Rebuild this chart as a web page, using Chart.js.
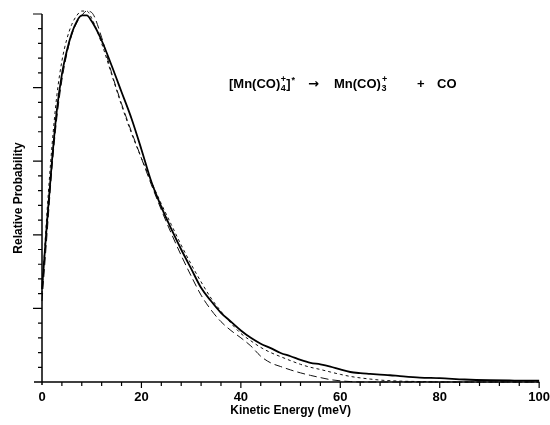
<!DOCTYPE html>
<html>
<head>
<meta charset="utf-8">
<script src="https://cdn.jsdelivr.net/npm/chart.js@4"></script>
<style>
  html, body { margin: 0; padding: 0; background: #fff; }
  #wrap { width: 550px; height: 425px; }
</style>
</head>
<body>
<div id="wrap"><canvas id="chart" width="550" height="425"></canvas></div>
<script>
// kinetic energy grid (meV)
const energy = [0, 1, 2, 3, 4, 5, 6, 7, 8, 9, 10, 12, 14, 16, 18, 20, 22, 24, 26, 28, 30, 32, 34, 36, 38, 40,
    42, 44, 46, 48, 50, 52, 54, 56, 58, 60, 62, 64, 66, 68, 70, 72, 76, 80, 85, 90, 95, 100];

// experimental distribution (solid)
const measured = [6.3, 10.8, 15, 18.5, 20.9, 22.5, 23.7, 24.5, 24.9, 24.9, 24.5, 23.2, 21.5, 19.7, 17.9, 15.8, 13.6, 11.9, 10.4, 9.0, 7.7, 6.4, 5.5, 4.7, 4.1, 3.5,
    3.0, 2.6, 2.3, 1.97, 1.75, 1.5, 1.3, 1.2, 1.05, 0.85, 0.68, 0.6, 0.55, 0.5, 0.46, 0.4, 0.3, 0.26, 0.17, 0.12, 0.1, 0.09];

// calculated distributions
const calcShort = [6.0, 11.5, 16, 19.5, 21.8, 23.3, 24.3, 24.9, 25.2, 25.2, 24.7, 23.0, 20.9, 18.8, 16.9, 15.2, 13.6, 12.1, 10.7, 9.3, 8.0, 6.8, 5.7, 4.8, 4.0, 3.3,
    2.8, 2.35, 2.0, 1.72, 1.45, 1.2, 1.0, 0.85, 0.68, 0.52, 0.38, 0.28, 0.2, 0.13, 0.09, 0.06, 0.03, 0, 0, 0, 0, 0];
const calcLong = [5.5, 10, 14.5, 18, 20.5, 22.3, 23.6, 24.4, 24.9, 25.2, 25.1, 23.4, 21.0, 18.9, 17.0, 15.2, 13.4, 11.7, 10.1, 8.6, 7.2, 5.9, 4.9, 4.1, 3.5, 3.0,
    2.45, 1.75, 1.3, 1.05, 0.82, 0.62, 0.45, 0.3, 0.16, 0.08, 0.03, 0, 0, 0, 0, 0, 0, 0, 0, 0, 0, 0];

const xTickLabels = [0, 20, 40, 60, 80, 100];

const FONT = "'Liberation Sans', Arial, Helvetica, sans-serif";

function pts(ys) {
    return energy.map((e, i) => ({ x: e, y: ys[i] }));
}

// axis lines + tick marks (minor and major) drawn from the scales
const axesPlugin = {
    id: 'axesPlugin',
    afterDatasetsDraw(chart) {
        const { ctx, scales: { x, y } } = chart;
        const x0 = x.getPixelForValue(0), y0 = y.getPixelForValue(0);
        ctx.save();
        ctx.strokeStyle = '#000';
        ctx.lineWidth = 1.5;
        ctx.beginPath();
        ctx.moveTo(x0 - 8, y0);
        ctx.lineTo(x.getPixelForValue(100), y0);
        ctx.moveTo(x0, y.getPixelForValue(25));
        ctx.lineTo(x0, y0 + 3);
        ctx.stroke();
        ctx.lineWidth = 1.2;
        ctx.beginPath();
        for (let v = 4; v <= 100; v += 4) {
            const px = x.getPixelForValue(v);
            const len = v % 20 === 0 ? 6 : 4;
            ctx.moveTo(px, y0);
            ctx.lineTo(px, y0 + len);
        }
        ctx.moveTo(x.getPixelForValue(100), y0);
        ctx.lineTo(x.getPixelForValue(100), y0 + 6);
        for (let v = 1; v <= 25; v++) {
            const py = y.getPixelForValue(v);
            const len = v % 5 === 0 ? 9 : 4;
            ctx.moveTo(x0, py);
            ctx.lineTo(x0 - len, py);
        }
        ctx.stroke();
        ctx.restore();
    }
};

// reaction label
const labelPlugin = {
    id: 'labelPlugin',
    afterDraw(chart) {
        const ctx = chart.ctx;
        const base = 88;
        const big = 'bold 13px ' + FONT;
        const small = 'bold 9px ' + FONT;
        ctx.save();
        ctx.fillStyle = '#000';
        ctx.textBaseline = 'alphabetic';
        const put = (t, f, x, dy) => {
            ctx.font = f;
            ctx.fillText(t, x, base + dy);
            return x + ctx.measureText(t).width;
        };
        let cx = put('[Mn(CO)', big, 229, 0);
        const a = put('4', small, cx + 0.5, 3);
        put('+', small, cx + 0.5, -6);
        cx = put(']', big, a + 0.5, 0);
        put('*', small, cx + 1, -5);
        ctx.font = 'bold 13px "DejaVu Sans", sans-serif';
        ctx.fillText('\u2192', 308, base);
        cx = put('Mn(CO)', big, 334, 0);
        put('3', small, cx + 0.5, 3);
        put('+', small, cx + 1, -6);
        put('+', big, 417, 0);
        put('CO', big, 437, 0);
        ctx.restore();
    }
};

new Chart(document.getElementById('chart'), {
    type: 'line',
    data: {
        datasets: [
            { data: pts(measured), borderColor: '#000', borderWidth: 1.8, borderDash: [] },
            { data: pts(calcShort), borderColor: '#111', borderWidth: 1, borderDash: [3, 3] },
            { data: pts(calcLong), borderColor: '#111', borderWidth: 1, borderDash: [8, 4] }
        ]
    },
    options: {
        responsive: false,
        animation: false,
        events: [],
        clip: false,
        layout: { padding: { left: 0, right: 0, top: 14, bottom: 0 } },
        elements: {
            point: { radius: 0 },
            line: { cubicInterpolationMode: 'monotone', fill: false }
        },
        plugins: { legend: { display: false }, tooltip: { enabled: false } },
        scales: {
            x: {
                type: 'linear', min: 0, max: 100,
                grid: { display: false },
                border: { display: false },
                ticks: {
                    stepSize: 20,
                    padding: 0,
                    color: '#000',
                    font: { family: FONT, size: 13, weight: 'bold' },
                    callback: v => xTickLabels.includes(v) ? String(v) : ''
                },
                title: {
                    display: true, text: 'Kinetic Energy (meV)', color: '#000',
                    font: { family: FONT, size: 12, weight: 'bold' },
                    padding: { top: 0, bottom: 7 }
                },
                afterFit(s) { s.height = 43; }
            },
            y: {
                min: 0, max: 25,
                grid: { display: false },
                border: { display: false },
                ticks: { display: false },
                title: {
                    display: true, text: 'Relative Probability', color: '#000',
                    font: { family: FONT, size: 12, weight: 'bold' },
                    padding: { top: 11, bottom: 0 }
                },
                afterFit(s) { s.width = 42; }
            }
        }
    },
    plugins: [axesPlugin, labelPlugin]
});
</script>
</body>
</html>
